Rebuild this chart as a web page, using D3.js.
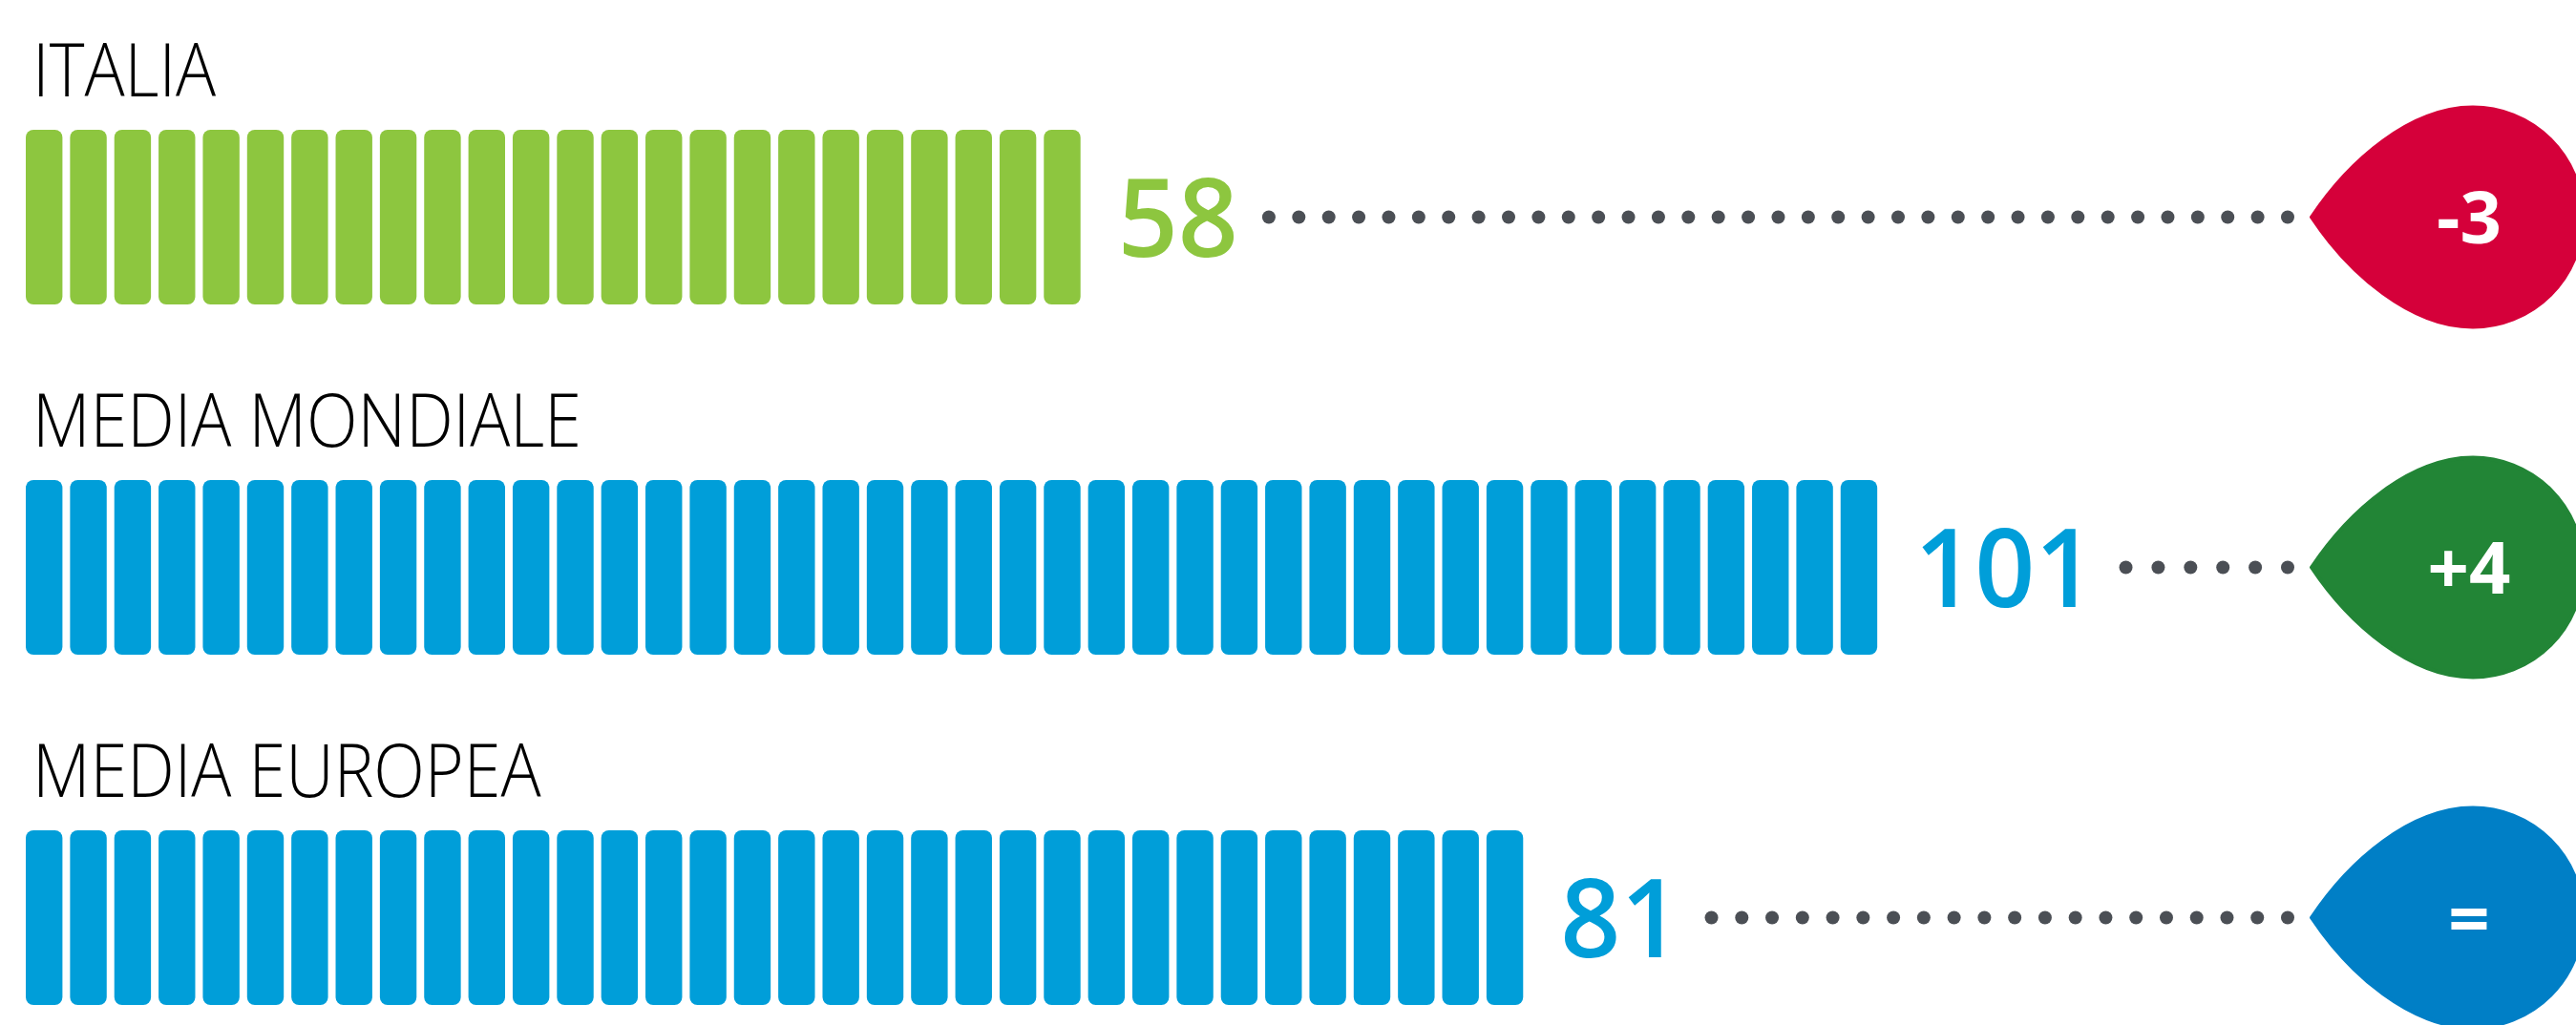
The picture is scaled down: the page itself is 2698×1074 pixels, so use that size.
<!DOCTYPE html>
<html>
<head>
<meta charset="utf-8">
<script src="https://cdn.jsdelivr.net/npm/d3@7"></script>
<style>
  html, body { margin: 0; padding: 0; background: #ffffff; overflow: hidden; }
  svg { display: block; }
</style>
</head>
<body>
<svg id="chart" width="2698" height="1074"></svg>
<script>
// ---- Data ----
const categories = ["ITALIA", "MEDIA MONDIALE", "MEDIA EUROPEA"];
const values = [58, 101, 81];
const deltas = [-3, 4, 0];
const barColors = ["#8dc63f", "#009ed9", "#009ed9"];

// ---- Layout ----
const W = 2698, H = 1074;
const svg = d3.select("#chart");

const x = d3.scaleLinear().domain([0, d3.max(values)]).range([27, 1966]);
const yRow = d3.scalePoint().domain(categories).range([136, 870]);

const barH = 183;
const segPeriod = 46.36;
const segW = 38.4;
const segGap = segPeriod - segW;
const dotEnd = 2396;
const dotSpacing = 31;
const dropCx = 2590, dropR = 115, tipX = 2421;

const deltaColor = d => d < 0 ? "#d5003a" : (d > 0 ? "#228536" : "#007fc6");
const deltaText = d => d < 0 ? "-" + Math.abs(d) : (d > 0 ? "+" + d : "=");

const rows = categories.map((c, i) => ({ name: c, value: values[i], delta: deltas[i], color: barColors[i] }));

const g = svg.selectAll("g.row").data(rows).join("g").attr("class", "row");

// Category titles (light, slightly condensed)
g.append("text")
  .attr("transform", d => `translate(34,${yRow(d.name) - 35}) scale(0.91,1)`)
  .attr("font-family", "'Open Sans', sans-serif")
  .attr("font-weight", 300)
  .attr("font-size", 77)
  .attr("fill", "#000")
  .text(d => d.name);

// Segmented bars
g.each(function(d) {
  const top = yRow(d.name);
  const n = Math.round((x(d.value) - x(0) + segGap) / segPeriod);
  const segs = d3.range(n);
  d3.select(this).selectAll("rect.seg").data(segs).join("rect")
    .attr("class", "seg")
    .attr("x", i => x(0) + i * segPeriod)
    .attr("y", top)
    .attr("width", segW)
    .attr("height", barH)
    .attr("rx", 8).attr("ry", 8)
    .attr("fill", d.color);

  const barEnd = x(0) + n * segPeriod - segGap;
  const cy = top + barH / 2;

  // Value label
  const lab = d3.select(this).append("text")
    .attr("transform", `translate(${barEnd + 39},${cy + 41}) scale(0.96,1)`)
    .attr("font-family", "'Open Sans', sans-serif")
    .attr("font-weight", 600)
    .attr("font-size", 115)
    .attr("fill", d.color)
    .text(d.value);
  const bb = lab.node().getBBox();
  const labEnd = barEnd + 39 + bb.width * 0.96;

  // Dotted leader
  const start = labEnd + 32;
  const cnt = Math.round((dotEnd - start) / dotSpacing) + 1;
  const dx = d3.scaleLinear().domain([0, cnt - 1]).range([start, dotEnd]);
  d3.select(this).selectAll("circle.dot").data(d3.range(cnt)).join("circle")
    .attr("class", "dot")
    .attr("cx", k => dx(k))
    .attr("cy", cy)
    .attr("r", 7)
    .attr("fill", "#4b4f55");

  // Teardrop
  const p = d3.path();
  p.moveTo(tipX, cy);
  p.bezierCurveTo(tipX + 40, cy - 60, dropCx - 65, cy - dropR, dropCx, cy - dropR);
  p.arc(dropCx, cy, dropR, -Math.PI / 2, Math.PI / 2, false);
  p.bezierCurveTo(dropCx - 65, cy + dropR, tipX + 40, cy + 60, tipX, cy);
  p.closePath();
  d3.select(this).append("path")
    .attr("d", p.toString())
    .attr("fill", deltaColor(d.delta))
    .attr("stroke", deltaColor(d.delta))
    .attr("stroke-width", 4)
    .attr("stroke-linejoin", "round");

  d3.select(this).append("text")
    .attr("x", 2586)
    .attr("y", cy + 27)
    .attr("text-anchor", "middle")
    .attr("font-family", "'Open Sans', sans-serif")
    .attr("font-weight", 700)
    .attr("font-size", 76)
    .attr("fill", "#ffffff")
    .text(deltaText(d.delta));
});
</script>
</body>
</html>
